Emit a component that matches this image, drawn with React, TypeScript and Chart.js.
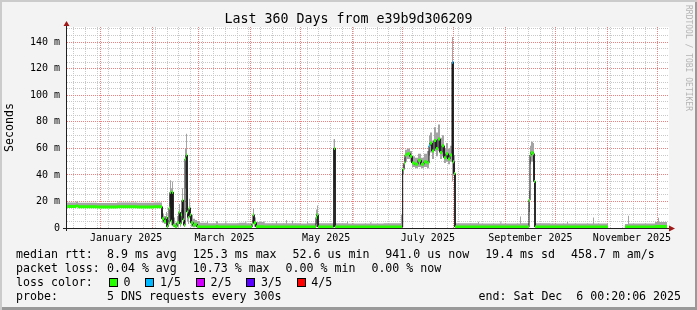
import React, { useEffect, useRef } from 'react';
import { Chart, registerables } from 'chart.js';

Chart.register(...registerables);

// ---------- text ----------
const TITLE = 'Last 360 Days from e39b9d306209';
const Y_TITLE = 'Seconds';
const WATERMARK = 'RRDTOOL / TOBI OETIKER';
const RTT_LABEL = 'median rtt:';
const rttStats = ['8.9 ms avg', '125.3 ms max', '52.6 us min', '941.0 us now', '19.4 ms sd', '458.7 m am/s'];
const LOSS_LABEL = 'packet loss:';
const lossStats = ['0.04 % avg', '10.73 % max', '0.00 % min', '0.00 % now'];
const LOSS_COLOR_LABEL = 'loss color:';
const lossLabels = ['0', '1/5', '2/5', '3/5', '4/5'];
const lossColors = ['#26ff00', '#00b8ff', '#d400ff', '#5a00ff', '#ff0000'];
const PROBE_LABEL = 'probe:';
const PROBE_TEXT = '5 DNS requests every 300s';
const END_TEXT = 'end: Sat Dec  6 00:20:06 2025';

// ---------- time axis ----------
const DAY0 = '2024-12-12'; // left edge of the plot
const SPAN_DAYS = 360;
const monthStarts = ['2025-01-01', '2025-02-01', '2025-03-01', '2025-04-01', '2025-05-01', '2025-06-01',
  '2025-07-01', '2025-08-01', '2025-09-01', '2025-10-01', '2025-11-01', '2025-12-01'];
const labelMonths = ['2025-01', '2025-03', '2025-05', '2025-07', '2025-09', '2025-11'];
const labelTexts = ['January 2025', 'March 2025', 'May 2025', 'July 2025', 'September 2025', 'November 2025'];
const FIRST_WEEK_LINE = '2024-12-16';

// ---------- value axis (milliseconds) ----------
const Y_MAX = 151.5;
const yMajor = [0, 20, 40, 60, 80, 100, 120, 140];
const Y_MINOR_STEP = 5;

// ---------- data: sample start (days since DAY0), median / smoke range in ms, lost pings of 5 ----------
const sampleDays = [
  0, 5.4, 6.6, 18, 30, 42, 52,
  57, 58.2, 59.4, 60, 60.6, 61.2, 61.8, 62.4, 63, 63.6, 64.8, 66, 67.2, 67.8, 68.4, 69, 69.6, 70.2,
  70.8, 71.4, 72, 72.6, 73.2, 73.8, 74.4, 75.6, 76.8, 78, 79.8,
  84, 84.6, 89.4, 90.6, 95, 95.6, 103, 107, 107.6, 111, 111.6, 112.2, 113.4, 118, 118.6, 120,
  125.4, 126, 131.4, 132, 135, 135.6, 140, 144, 144.6, 149.4, 150, 150.6, 159.6, 160.2, 160.8,
  168, 168.6, 175, 182, 182.6, 190, 200.4, 201,
  201.6, 202.2, 202.8, 204, 205.8, 207, 208.8, 210.6, 212.4, 214.2, 216, 217.2, 217.8, 219, 220.2,
  221.4, 222.6, 223.8, 225, 226.2, 227.4, 228.6, 229.8, 231, 231.6, 232.2,
  232.8, 246.6, 247.2, 260, 260.6, 271.8, 272.4, 277.2, 277.8, 278.4, 279.6, 280.2, 280.8,
  290, 300, 300.6, 315.6, 316.2, 324.6, 334.8, 336.6, 337.2, 345, 352.8, 354.6, 355.2,
];
const medianMs = [
  16.2, 16.6, 16.0, 15.8, 16.0, 15.9, 16.1,
  7, 5, 8, 1, 3, 15, 27, 5, 27, 2, 1, 4, 12, 3, 10, 21, 6, 2,
  52, 55, 12, 8, 15, 10, 4, 2, 3, 1, 0.8,
  0.8, 0.8, 1.2, 0.8, 0.8, 0.8, 0.8, 0.8, 0.8, 3, 10, 4, 1, 0.8, 0.8, 0.8,
  0.8, 0.8, 0.8, 0.8, 0.8, 0.8, 0.8, 0.8, 0.8, 8, 10, 0.8, 58, 60, 0.8,
  0.8, 0.8, 0.8, 0.8, 0.8, 0.8, 0.8, 0.8,
  44, 49, 55, 56, 54, 49, 48, 51, 48, 50, 49, 62, 64, 58, 66,
  60, 67, 57, 62, 53, 56, 52, 55, 125, 50, 41,
  0.8, 0.8, 0.8, 0.8, 0.8, 0.8, 0.8, 21, 55, 57, 56, 35, 0.8,
  0.8, 0.8, 0.8, 0.8, 0.8, null, 0.8, 0.8, 0.8, 0.8, 1.2, 1.2, 1.2,
];
const smokeLoMs = [
  15.6, 15.8, 15.5, 15.4, 15.5, 15.4, 15.6,
  4, 3, 5, 0.5, 1, 8, 18, 2, 14, 1, 0.5, 1, 6, 1, 4, 12, 2, 1,
  30, 40, 5, 3, 8, 4, 1, 0.5, 1, 0.5, 0.4,
  0.4, 0.4, 0.5, 0.4, 0.4, 0.4, 0.4, 0.4, 0.4, 1, 4, 1, 0.4, 0.4, 0.4, 0.4,
  0.4, 0.4, 0.4, 0.4, 0.4, 0.4, 0.4, 0.4, 0.4, 3, 4, 0.4, 20, 30, 0.4,
  0.4, 0.4, 0.4, 0.4, 0.4, 0.4, 0.4, 0.4,
  40, 45, 50, 52, 50, 46, 45, 46, 45, 46, 45, 55, 57, 52, 58,
  54, 58, 52, 54, 49, 50, 48, 50, 35, 40, 30,
  0.4, 0.4, 0.4, 0.4, 0.4, 0.4, 0.4, 12, 48, 50, 50, 20, 0.4,
  0.4, 0.4, 0.4, 0.4, 0.4, null, 0.4, 0.4, 0.4, 0.4, 0.5, 0.5, 0.5,
];
const smokeHiMs = [
  19.2, 20.0, 19.0, 18.8, 19.2, 19.0, 19.3,
  11, 9, 12, 4, 6, 26, 36, 30, 35, 8, 4, 9, 18, 8, 14, 30, 14, 6,
  60, 71, 30, 14, 22, 16, 10, 7, 6, 5, 4,
  5.5, 3.6, 5, 3.5, 5.5, 3.6, 4, 5, 3.6, 6, 15, 8, 4.5, 5, 3.6, 3.5,
  5, 3.5, 6, 3.5, 5.5, 3.5, 3.3, 5, 3.5, 14, 17, 3.5, 66, 67, 3.5,
  5, 3.4, 3.3, 4.5, 3.4, 3.5, 10, 3.5,
  48, 53, 59, 60, 58, 54, 53, 56, 53, 56, 58, 70, 72, 66, 76,
  72, 78, 68, 70, 60, 64, 60, 62, 144, 60, 55,
  3.5, 4.7, 3.3, 5, 3.4, 8.7, 3.5, 28, 62, 65, 64, 50, 3.5,
  3.3, 4.5, 3.3, 8, 3.3, null, 3, 9.3, 3.3, 3.3, 4.5, 7.7, 4.5,
];
const lostPings = [
  0, 0, 0, 0, 0, 0, 0,
  0, 0, 0, 0, 0, 0, 0, 0, 0, 0, 0, 0, 0, 0, 0, 0, 0, 0,
  0, 0, 0, 0, 0, 0, 0, 0, 0, 0, 0,
  0, 0, 0, 0, 0, 0, 0, 0, 0, 0, 0, 0, 0, 0, 0, 0,
  0, 0, 0, 0, 0, 0, 0, 0, 0, 0, 0, 0, 0, 0, 0,
  0, 0, 0, 0, 0, 0, 0, 0,
  0, 0, 0, 0, 0, 0, 0, 0, 0, 0, 0, 1, 0, 0, 0,
  0, 0, 0, 0, 0, 0, 0, 0, 1, 0, 0,
  0, 0, 0, 0, 0, 0, 0, 0, 0, 0, 0, 0, 0,
  0, 0, 0, 0, 0, 0, 0, 0, 0, 0, 0, 0, 0,
];

// ---------- colours ----------
const BACK = '#f3f3f3';
const CANVAS = '#ffffff';
const GRID = '#c8c8c8';
const MGRID = '#ee8080';
const SMOKE = '#a4a4a4';
const MEDIAN = '#101010';
const AXIS = '#202020';
const ARROW = '#a01818';
const MONO = '"DejaVu Sans Mono", monospace';

const DAY_MS = 86400000;
const T0 = Date.parse(DAY0 + 'T00:00:00Z');
const dayOf = (iso: string) => (Date.parse(iso + 'T00:00:00Z') - T0) / DAY_MS;

const monthStartDays = monthStarts.map(dayOf);
const labelDays = labelMonths.map((m) => {
  const [y, mo] = m.split('-').map(Number);
  const s = dayOf(m + '-01');
  const e = (Date.UTC(y, mo, 1) - T0) / DAY_MS;
  return (s + e) / 2;
});
const weekDays: number[] = [];
for (let d = dayOf(FIRST_WEEK_LINE); d < SPAN_DAYS; d += 7) {
  if (!monthStartDays.some((m) => Math.abs(m - d) < 0.01)) weekDays.push(d);
}
const near = (arr: number[], v: number) => arr.findIndex((a) => Math.abs(a - v) < 0.01);

const yMinor: number[] = [];
for (let v = Y_MINOR_STEP; v <= Y_MAX; v += Y_MINOR_STEP) if (!yMajor.includes(v)) yMinor.push(v);

type P = { x: number; y: number | null };
const intervalEnd = (i: number) => (i + 1 < sampleDays.length ? sampleDays[i + 1] : SPAN_DAYS);

function stepSeries(vals: (number | null)[]): P[] {
  const pts: P[] = [];
  vals.forEach((v, i) => {
    if (v === null) { pts.push({ x: sampleDays[i], y: null }); return; }
    pts.push({ x: sampleDays[i], y: v }, { x: intervalEnd(i), y: v });
  });
  return pts;
}

function lossSegments(level: number): P[] {
  const pts: P[] = [];
  medianMs.forEach((v, i) => {
    if (v === null || lostPings[i] !== level) return;
    pts.push({ x: sampleDays[i], y: v }, { x: intervalEnd(i), y: v }, { x: intervalEnd(i), y: null });
  });
  return pts;
}

const plotBgPlugin = {
  id: 'plotBg',
  beforeDraw(chart: any) {
    const { ctx, chartArea: a } = chart;
    ctx.save();
    ctx.fillStyle = CANVAS;
    ctx.fillRect(a.left, a.top, a.right - a.left + 2, a.bottom - a.top);
    ctx.restore();
  },
};

// rrdtool style dotted grid, placed through the chart's own scales
const gridPlugin = {
  id: 'rrdGrid',
  beforeDatasetsDraw(chart: any) {
    const { ctx, chartArea: a, scales } = chart;
    const xs = scales.x;
    const ys = scales.y;
    const top = Math.round(a.top);
    const bottom = Math.round(a.bottom);
    const left = Math.round(a.left);
    const right = Math.round(a.right) + 1;
    ctx.save();
    ctx.globalAlpha = 1;
    ctx.lineWidth = 1;
    ctx.setLineDash([1, 1]);
    const vline = (v: number, color: string) => {
      const px = Math.floor(xs.getPixelForValue(v)) + 0.5;
      ctx.strokeStyle = color;
      ctx.beginPath();
      ctx.moveTo(px, bottom);
      ctx.lineTo(px, top);
      ctx.stroke();
    };
    const hline = (v: number, color: string) => {
      const py = Math.floor(ys.getPixelForValue(v)) + 0.5;
      ctx.strokeStyle = color;
      ctx.beginPath();
      ctx.moveTo(left, py);
      ctx.lineTo(right, py);
      ctx.stroke();
    };
    weekDays.forEach((d) => vline(d, GRID));
    yMinor.forEach((v) => hline(v, GRID));
    monthStartDays.forEach((d) => vline(d, MGRID));
    yMajor.forEach((v) => { if (v > 0) hline(v, MGRID); });
    ctx.restore();
  },
};

const axesPlugin = {
  id: 'rrdAxes',
  afterDatasetsDraw(chart: any) {
    const { ctx, chartArea: a } = chart;
    const x0 = a.left - 0.5;
    const y0 = a.bottom + 0.5;
    ctx.save();
    ctx.strokeStyle = AXIS;
    ctx.lineWidth = 1;
    ctx.beginPath();
    ctx.moveTo(x0, a.bottom + 3);
    ctx.lineTo(x0, a.top - 3);
    ctx.moveTo(a.left - 4, y0);
    ctx.lineTo(a.right + 4, y0);
    ctx.stroke();
    ctx.fillStyle = ARROW;
    ctx.beginPath();
    ctx.moveTo(x0, a.top - 6);
    ctx.lineTo(x0 - 3, a.top - 1);
    ctx.lineTo(x0 + 3, a.top - 1);
    ctx.closePath();
    ctx.fill();
    ctx.beginPath();
    ctx.moveTo(a.right + 8, y0);
    ctx.lineTo(a.right + 2, y0 - 3);
    ctx.lineTo(a.right + 2, y0 + 3);
    ctx.closePath();
    ctx.fill();
    ctx.restore();
  },
};

export default function App() {
  const ref = useRef<HTMLCanvasElement>(null);

  useEffect(() => {
    const canvas = ref.current;
    if (!canvas) return;
    const lossDatasets = lossColors
      .map((c, level) => ({ level, c }))
      .filter(({ level }) => lostPings.includes(level))
      .map(({ level, c }) => ({
        label: 'loss ' + lossLabels[level],
        data: lossSegments(level),
        borderColor: c,
        borderWidth: 3,
        borderCapStyle: 'butt' as const,
        pointRadius: 0,
        fill: false,
        spanGaps: false,
      }));
    const chart = new Chart(canvas, {
      type: 'line',
      data: {
        datasets: [
          ...lossDatasets,
          {
            label: 'median',
            data: stepSeries(medianMs),
            borderColor: MEDIAN,
            borderWidth: 1,
            pointRadius: 0,
            fill: false,
            spanGaps: false,
          },
          {
            label: 'smoke hi',
            data: stepSeries(smokeHiMs),
            borderColor: SMOKE,
            borderWidth: 0,
            backgroundColor: SMOKE,
            pointRadius: 0,
            fill: '+1',
            spanGaps: false,
          },
          {
            label: 'smoke lo',
            data: stepSeries(smokeLoMs),
            borderColor: SMOKE,
            borderWidth: 0,
            pointRadius: 0,
            fill: false,
            spanGaps: false,
          },
        ] as any,
      },
      options: {
        animation: false,
        responsive: false,
        devicePixelRatio: 1,
        layout: { padding: { top: 27, right: 30, bottom: 0, left: 0 } },
        plugins: { legend: { display: false }, tooltip: { enabled: false }, title: { display: false } },
        elements: { line: { tension: 0 } },
        scales: {
          x: {
            type: 'linear',
            min: 0,
            max: SPAN_DAYS,
            afterBuildTicks: (s: any) => { s.ticks = labelDays.map((v) => ({ value: v })); },
            afterFit: (s: any) => { s.height = 82; },
            grid: { display: false, drawTicks: false },
            border: { display: false },
            ticks: {
              autoSkip: false,
              maxRotation: 0,
              minRotation: 0,
              padding: 4,
              color: '#000',
              font: { family: MONO, size: 10 },
              callback: (v: any) => {
                const k = near(labelDays, Number(v));
                return k >= 0 ? labelTexts[k] : '';
              },
            },
          },
          y: {
            type: 'linear',
            min: 0,
            max: Y_MAX,
            afterBuildTicks: (s: any) => { s.ticks = yMajor.map((v) => ({ value: v })); },
            afterFit: (s: any) => { s.width = 67; },
            grid: { display: false, drawTicks: false },
            border: { display: false },
            ticks: {
              autoSkip: false,
              padding: 7,
              color: '#000',
              font: { family: MONO, size: 10 },
              callback: (v: any) => (Number(v) === 0 ? '0' : `${v} m`),
            },
            title: {
              display: true,
              text: Y_TITLE,
              color: '#000',
              font: { family: MONO, size: 11.6 },
              padding: { top: 3.5, bottom: 0 },
            },
          },
        },
      } as any,
      plugins: [plotBgPlugin, gridPlugin, axesPlugin],
    });
    return () => chart.destroy();
  }, []);

  const rowStyle = (top: number): React.CSSProperties => ({
    position: 'absolute',
    left: 16,
    top,
    height: 14,
    lineHeight: '14px',
    display: 'flex',
    alignItems: 'center',
    whiteSpace: 'pre',
    fontFamily: MONO,
    fontSize: 11.6,
    color: '#000',
  });
  const head: React.CSSProperties = { display: 'inline-block', width: 91 };
  const item: React.CSSProperties = { marginRight: 16 };

  return (
    <div
      style={{
        position: 'relative',
        width: 697,
        height: 310,
        background: BACK,
        boxShadow: 'inset 2px 2px 0 #cbcbcb, inset -2px -3px 0 #999999',
        overflow: 'hidden',
      }}
    >
      <style>{'body{margin:0}'}</style>
      <canvas
        ref={ref}
        width={697}
        height={310}
        style={{ position: 'absolute', left: 0, top: 0, width: 697, height: 310 }}
      />
      <div
        style={{
          position: 'absolute', left: 0, top: 11, width: 697, textAlign: 'center',
          fontFamily: MONO, fontSize: 13.3, lineHeight: '16px', color: '#000', whiteSpace: 'pre',
        }}
      >
        {TITLE}
      </div>
      <div
        style={{
          position: 'absolute', left: 683, top: 5, writingMode: 'vertical-rl',
          fontFamily: MONO, fontSize: 8, lineHeight: '10px', color: '#b4b4b4', whiteSpace: 'pre',
        }}
      >
        {WATERMARK}
      </div>
      <div style={rowStyle(247)}>
        <span style={head}>{RTT_LABEL}</span>
        {rttStats.map((s, i) => <span key={i} style={item}>{s}</span>)}
      </div>
      <div style={rowStyle(261)}>
        <span style={head}>{LOSS_LABEL}</span>
        {lossStats.map((s, i) => <span key={i} style={item}>{s}</span>)}
      </div>
      <div style={rowStyle(275)}>
        <span style={{ ...head, width: 93 }}>{LOSS_COLOR_LABEL}</span>
        {lossLabels.map((l, i) => (
          <span key={i} style={{ display: 'flex', alignItems: 'center', marginRight: 15 }}>
            <span
              style={{
                display: 'inline-block', width: 7, height: 7, border: '1px solid #000',
                background: lossColors[i], marginRight: 5.5,
              }}
            />
            <span>{l}</span>
          </span>
        ))}
      </div>
      <div style={rowStyle(289)}>
        <span style={head}>{PROBE_LABEL}</span>
        <span>{PROBE_TEXT}</span>
      </div>
      <div
        style={{
          position: 'absolute', right: 16, top: 289, height: 14, lineHeight: '14px',
          fontFamily: MONO, fontSize: 11.6, color: '#000', whiteSpace: 'pre',
        }}
      >
        {END_TEXT}
      </div>
    </div>
  );
}
